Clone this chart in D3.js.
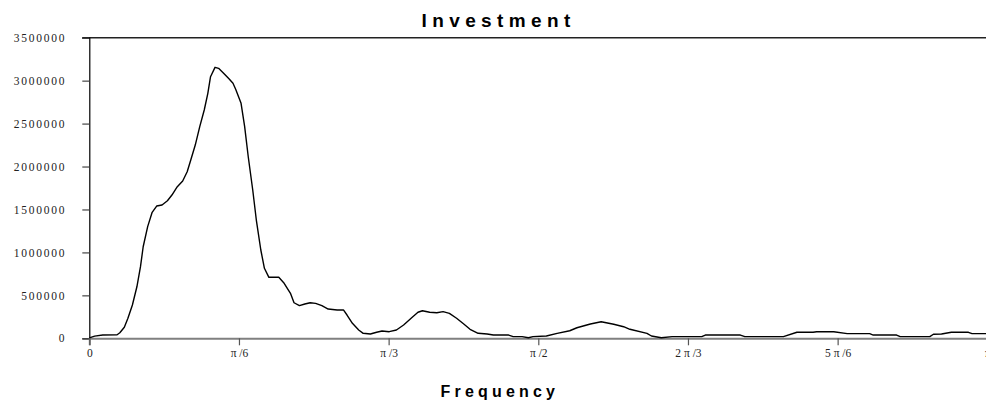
<!DOCTYPE html>
<html>
<head>
<meta charset="utf-8">
<script src="https://cdn.jsdelivr.net/npm/d3@7/dist/d3.min.js"></script>
<style>
  body { margin: 0; background: #fff; }
  svg { display: block; }
</style>
</head>
<body>
<svg id="chart" width="986" height="403"></svg>
<script>
// frequency, in multiples of pi
const freqs = [
    0.000, 0.006, 0.015, 0.031, 0.034, 0.039, 0.043, 0.048, 0.053, 0.057,
    0.060, 0.065, 0.070, 0.075, 0.081, 0.087, 0.092, 0.098, 0.104, 0.109,
    0.113, 0.118, 0.123, 0.128, 0.132, 0.135, 0.140, 0.144, 0.149, 0.155,
    0.160, 0.163, 0.169, 0.173, 0.177, 0.182, 0.186, 0.191, 0.195, 0.200,
    0.211, 0.217, 0.224, 0.228, 0.234, 0.240, 0.246, 0.252, 0.259, 0.266,
    0.276, 0.283, 0.287, 0.293, 0.300, 0.305, 0.313, 0.320, 0.326, 0.334,
    0.342, 0.350, 0.359, 0.366, 0.371, 0.379, 0.387, 0.394, 0.401, 0.409,
    0.417, 0.424, 0.433, 0.443, 0.450, 0.467, 0.472, 0.482, 0.489, 0.494,
    0.509, 0.521, 0.535, 0.543, 0.558, 0.570, 0.584, 0.595, 0.602, 0.621,
    0.626, 0.637, 0.649, 0.682, 0.686, 0.725, 0.730, 0.773, 0.788, 0.806,
    0.810, 0.829, 0.844, 0.869, 0.873, 0.899, 0.903, 0.936, 0.940, 0.949,
    0.960, 0.979, 0.983, 1.000
];

// spectrum values
const investment = [
    5000, 25000, 38000, 42000, 65000, 128000, 233000, 388000, 600000, 834000,
    1066000, 1300000, 1467000, 1540000, 1552000, 1602000, 1668000, 1765000, 1831000, 1940000,
    2076000, 2250000, 2464000, 2658000, 2852000, 3046000, 3155000, 3143000, 3093000, 3027000,
    2969000, 2899000, 2736000, 2464000, 2114000, 1727000, 1377000, 1028000, 815000, 710000,
    710000, 640000, 524000, 414000, 380000, 399000, 414000, 407000, 380000, 341000,
    330000, 330000, 271000, 175000, 97000, 58000, 50000, 70000, 85000, 77000,
    97000, 155000, 240000, 303000, 321000, 303000, 298000, 310000, 291000, 233000,
    166000, 105000, 58000, 50000, 38000, 38000, 19000, 19000, 7000, 19000,
    27000, 58000, 88000, 123000, 166000, 193000, 163000, 135000, 105000, 58000,
    27000, 7000, 19000, 19000, 38000, 38000, 19000, 19000, 70000, 70000,
    77000, 77000, 54000, 54000, 38000, 38000, 19000, 19000, 47000, 50000,
    70000, 70000, 54000, 54000
];

const yTicks = [0, 500000, 1000000, 1500000, 2000000, 2500000, 3000000, 3500000];
const xTicks = [0, 1 / 6, 1 / 3, 1 / 2, 2 / 3, 5 / 6, 1];
const xTickLabels = ["0", "\u03c0 /6", "\u03c0 /3", "\u03c0 /2", "2 \u03c0 /3", "5 \u03c0 /6", "\u03c0"];

const svg = d3.select("#chart");

const plot = { left: 89.3, right: 987.3, top: 37.7, bottom: 338.3 };

const x = d3.scaleLinear()
    .domain([0, Math.PI])
    .range([plot.left, plot.right]);

const y = d3.scaleLinear()
    .domain([0, 3500000])
    .range([plot.bottom, plot.top]);

// top border line
svg.append("line")
    .attr("x1", plot.left - 7).attr("x2", 986)
    .attr("y1", plot.top).attr("y2", plot.top)
    .attr("stroke", "#222")
    .attr("stroke-width", 1.5);

// y axis
const yAxis = svg.append("g")
    .attr("transform", `translate(${plot.left}, 0)`)
    .call(d3.axisLeft(y)
        .tickValues(yTicks)
        .tickSize(7)
        .tickPadding(16)
        .tickFormat(d3.format("d")));

yAxis.select(".domain").attr("stroke", "#000").attr("stroke-width", 1.2);
yAxis.selectAll(".tick line").attr("stroke", "#444").attr("stroke-width", 1.2);
yAxis.selectAll(".tick text")
    .attr("font-family", "'Liberation Serif', 'Times New Roman', serif")
    .attr("font-size", "11.5px")
    .attr("letter-spacing", "1.75px")
    .attr("fill", "#222");

// x axis
const xAxis = svg.append("g")
    .attr("transform", `translate(0, ${plot.bottom})`)
    .call(d3.axisBottom(x)
        .tickValues(xTicks.map(f => f * Math.PI))
        .tickSize(7)
        .tickPadding(4)
        .tickFormat((d, i) => xTickLabels[i]));

xAxis.select(".domain").attr("stroke", "#808080").attr("stroke-width", 2);
xAxis.selectAll(".tick line").attr("stroke", "#555").attr("stroke-width", 1.2);
xAxis.selectAll(".tick text")
    .attr("font-family", "'Liberation Serif', 'Times New Roman', serif")
    .attr("font-size", "11.5px")
    .attr("fill", "#222");

// spectrum line
const points = freqs.map((f, i) => [f * Math.PI, investment[i]]);

const line = d3.line()
    .x(d => x(d[0]))
    .y(d => y(d[1]));

svg.append("path")
    .datum(points)
    .attr("d", line)
    .attr("fill", "none")
    .attr("stroke", "#000")
    .attr("stroke-width", 1.4)
    .attr("stroke-linejoin", "round");

// title
svg.append("text")
    .text("Investment")
    .attr("x", 421.5)
    .attr("y", 27)
    .attr("font-family", "'Liberation Sans', Arial, sans-serif")
    .attr("font-weight", "bold")
    .attr("font-size", "19px")
    .attr("letter-spacing", "5.4px")
    .attr("fill", "#000");

// x axis title
svg.append("text")
    .text("Frequency")
    .attr("x", 440.5)
    .attr("y", 396.5)
    .attr("font-family", "'Liberation Sans', Arial, sans-serif")
    .attr("font-weight", "bold")
    .attr("font-size", "16px")
    .attr("letter-spacing", "4.2px")
    .attr("fill", "#000");
</script>
</body>
</html>
